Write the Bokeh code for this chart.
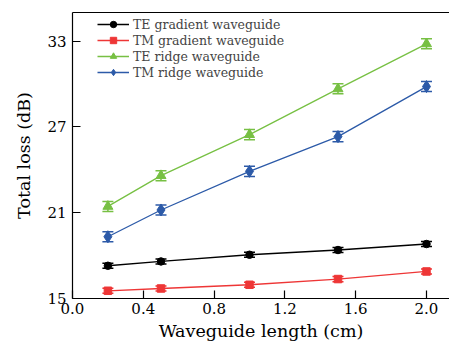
from bokeh.plotting import figure
from bokeh.models import Whisker, ColumnDataSource, Range1d, FixedTicker, LinearAxis, Legend, LegendItem, TeeHead
from bokeh.embed import file_html
from bokeh.resources import INLINE

length_cm = [0.2, 0.5, 1.0, 1.5, 2.0]
te_gradient = [17.29, 17.59, 18.06, 18.39, 18.81]
tm_gradient = [15.54, 15.70, 15.96, 16.36, 16.89]
te_ridge = [21.44, 23.59, 26.46, 29.66, 32.81]
tm_ridge = [19.32, 21.19, 23.89, 26.32, 29.82]
te_gradient_err = [0.18, 0.18, 0.18, 0.18, 0.18]
tm_gradient_err = [0.18, 0.18, 0.18, 0.18, 0.18]
te_ridge_err = [0.35, 0.35, 0.35, 0.35, 0.35]
tm_ridge_err = [0.35, 0.35, 0.35, 0.35, 0.35]
series_names = ["TE gradient waveguide", "TM gradient waveguide", "TE ridge waveguide", "TM ridge waveguide"]
x_ticks = [0.0, 0.4, 0.8, 1.2, 1.6, 2.0]
y_ticks = [15, 21, 27, 33]

FONT = "DejaVu Serif"

p = figure(width=449, height=347, output_backend="svg", toolbar_location=None,
           x_range=Range1d(0, 2.13), y_range=Range1d(15, 35),
           min_border_left=72, min_border_right=0, min_border_top=12, min_border_bottom=49)
p.outline_line_color = None
p.xgrid.visible = False
p.ygrid.visible = False
p.background_fill_color = "white"

for ax, ticks in ((p.xaxis[0], x_ticks), (p.yaxis[0], y_ticks)):
    ax.ticker = FixedTicker(ticks=ticks)
    ax.major_tick_in = 8
    ax.major_tick_out = 0
    ax.minor_tick_line_color = None
    ax.axis_line_color = "black"
    ax.axis_line_width = 1.2
    ax.major_tick_line_width = 1.2
    ax.major_label_text_font = FONT
    ax.major_label_text_font_size = "15px"
    ax.major_label_text_color = "black"
    ax.axis_label_text_font = FONT
    ax.axis_label_text_font_size = "17.5px"
    ax.axis_label_text_font_style = "normal"
    ax.axis_label_text_color = "black"

p.xaxis[0].axis_label = "Waveguide length (cm)"
p.yaxis[0].axis_label = "Total loss (dB)"
p.xaxis[0].major_label_overrides = {0.0: "0.0", 0.4: "0.4", 0.8: "0.8", 1.2: "1.2", 1.6: "1.6", 2.0: "2.0"}
p.xaxis[0].major_label_standoff = 4
p.yaxis[0].major_label_standoff = 6
p.xaxis[0].axis_label_standoff = 4
p.yaxis[0].axis_label_standoff = 10

top = LinearAxis(ticker=FixedTicker(ticks=[]), major_label_text_font_size="0px",
                 axis_line_width=1.2, major_tick_in=0, major_tick_out=0, minor_tick_line_color=None)
p.add_layout(top, "above")

series = [
    (te_gradient, te_gradient_err, "#000000", "circle", 7.5),
    (tm_gradient, tm_gradient_err, "#ee3636", "square", 7.5),
    (te_ridge, te_ridge_err, "#77c043", "triangle", 10),
    (tm_ridge, tm_ridge_err, "#2c5aa8", "diamond", 12),
]
items = []
for name, (vals, errs, col, mk, sz) in zip(series_names, series):
    src = ColumnDataSource(dict(x=length_cm, y=vals,
                                lo=[v - e for v, e in zip(vals, errs)],
                                hi=[v + e for v, e in zip(vals, errs)]))
    ln = p.line("x", "y", source=src, line_color=col, line_width=1.3)
    w = Whisker(source=src, base="x", upper="hi", lower="lo", line_color=col, line_width=1.5,
                upper_head=TeeHead(size=11, line_color=col, line_width=1.5),
                lower_head=TeeHead(size=11, line_color=col, line_width=1.5))
    p.add_layout(w)
    sc = p.scatter("x", "y", source=src, marker=mk, size=sz, fill_color=col, line_color=col)
    items.append(LegendItem(label=name, renderers=[ln, sc]))

legend = Legend(items=items, location=(25, 218), padding=4, margin=0, spacing=0,
                glyph_width=32, glyph_height=16, label_height=16, label_standoff=4,
                label_text_font=FONT, label_text_font_size="12.5px",
                border_line_color=None, background_fill_alpha=0)
p.add_layout(legend)

open("out.html", "w").write(file_html(p, INLINE))
